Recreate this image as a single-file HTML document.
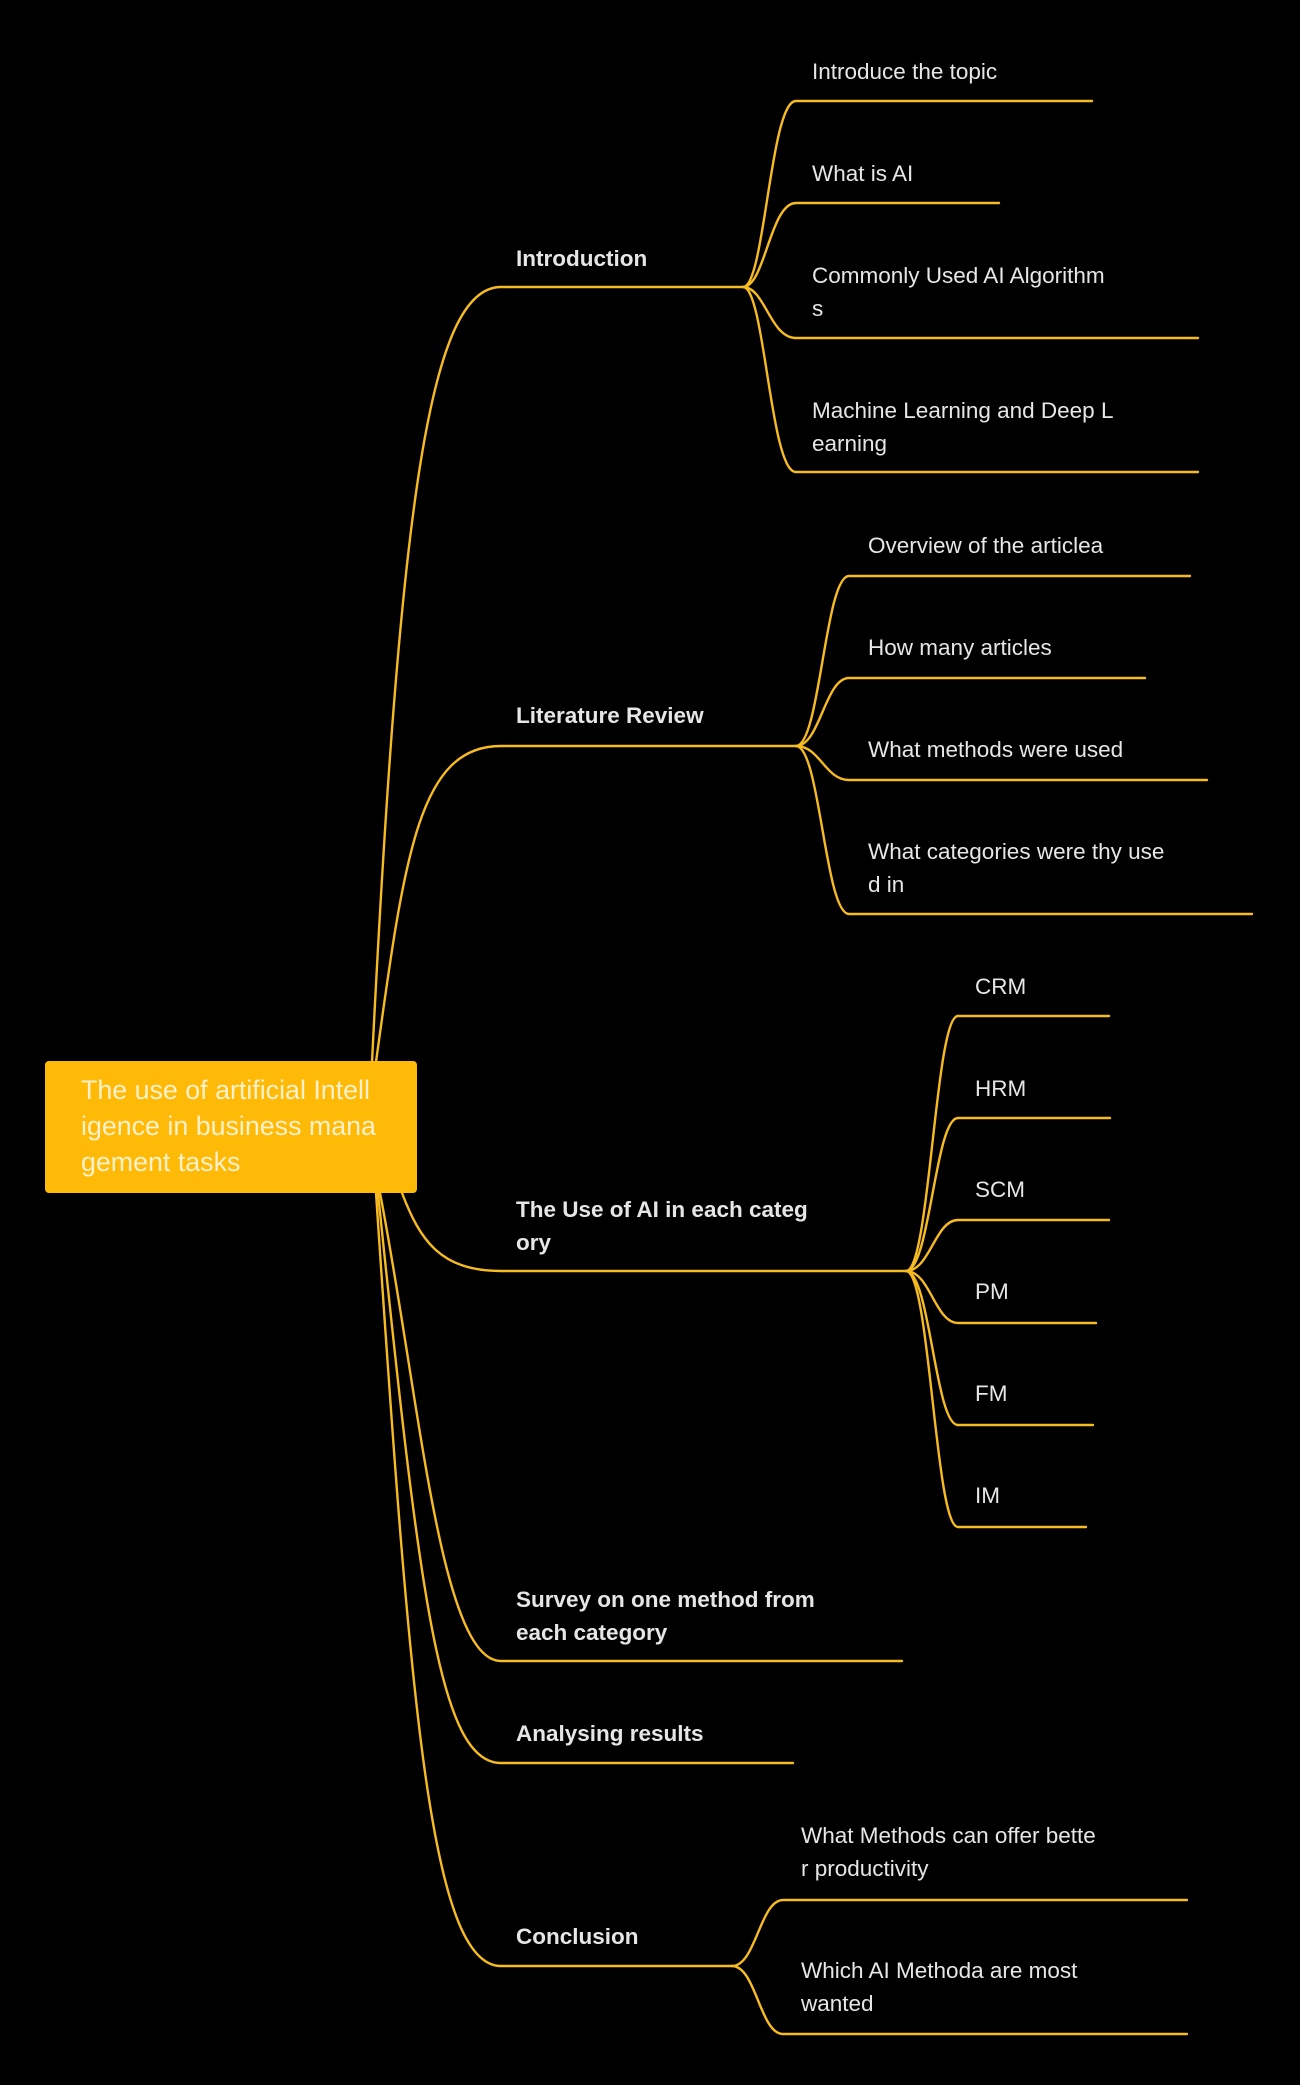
<!DOCTYPE html>
<html><head><meta charset="utf-8"><style>
html,body{margin:0;padding:0;background:#000;}
body{width:1300px;height:2080px;overflow:hidden;}
svg text{font-family:"Liberation Sans",Arial,sans-serif;}
</style></head><body>
<svg width="1300" height="2080" viewBox="0 0 1300 2080" xmlns="http://www.w3.org/2000/svg">
<rect width="1300" height="2080" fill="#000"/>
<g fill="none" stroke="#f7bb22" stroke-width="2.4" stroke-linecap="round">
<path d="M372,1062 C400,500 430,287 501,287 L743,287"/>
<path d="M376,1062 C405,850 420,746 501,746 L796,746"/>
<path d="M402,1193 C420,1240 440,1271 501,1271 L906,1271"/>
<path d="M380,1193 C420,1400 440,1661 501,1661 L902,1661"/>
<path d="M378,1193 C420,1600 440,1763 501,1763 L793,1763"/>
<path d="M376,1193 C410,1700 430,1966 501,1966 L732,1966"/>
<path d="M743,287 C765,287 770,101 796,101 L1092,101"/>
<path d="M743,287 C765,287 770,203 796,203 L999,203"/>
<path d="M743,287 C765,287 770,338 796,338 L1198,338"/>
<path d="M743,287 C765,287 770,472 796,472 L1198,472"/>
<path d="M796,746 C820,746 825,576 849,576 L1190,576"/>
<path d="M796,746 C820,746 825,678 849,678 L1145,678"/>
<path d="M796,746 C820,746 825,780 849,780 L1207,780"/>
<path d="M796,746 C820,746 825,914 849,914 L1252,914"/>
<path d="M906,1271 C930,1271 935,1016 958,1016 L1109,1016"/>
<path d="M906,1271 C930,1271 935,1118 958,1118 L1110,1118"/>
<path d="M906,1271 C930,1271 935,1220 958,1220 L1109,1220"/>
<path d="M906,1271 C930,1271 935,1323 958,1323 L1096,1323"/>
<path d="M906,1271 C930,1271 935,1425 958,1425 L1093,1425"/>
<path d="M906,1271 C930,1271 935,1527 958,1527 L1086,1527"/>
<path d="M732,1966 C756,1966 760,1900 783,1900 L1187,1900"/>
<path d="M732,1966 C756,1966 760,2034 783,2034 L1187,2034"/>
</g>
<rect x="45" y="1061" width="372" height="132" rx="4" fill="#ffb907"/>
<g fill="#fff1cc" font-size="26.8">
<text x="81" y="1099">The use of artificial Intell</text>
<text x="81" y="1135">igence in business mana</text>
<text x="81" y="1171">gement tasks</text>
</g>
<g fill="#e6e6e6" font-size="22.5" font-weight="bold">
<text x="516" y="266">Introduction</text>
<text x="516" y="723">Literature Review</text>
<text x="516" y="1217">The Use of AI in each categ</text>
<text x="516" y="1250">ory</text>
<text x="516" y="1607">Survey on one method from</text>
<text x="516" y="1640"> each category</text>
<text x="516" y="1741">Analysing results</text>
<text x="516" y="1944">Conclusion</text>
</g>
<g fill="#e6e6e6" font-size="22.5">
<text x="812" y="79">Introduce the topic</text>
<text x="812" y="181">What is AI</text>
<text x="812" y="283">Commonly Used AI Algorithm</text>
<text x="812" y="316">s</text>
<text x="812" y="418">Machine Learning and Deep L</text>
<text x="812" y="451">earning</text>
<text x="868" y="553">Overview of the articlea</text>
<text x="868" y="655">How many articles</text>
<text x="868" y="757">What methods were used</text>
<text x="868" y="859">What categories were thy use</text>
<text x="868" y="892">d in</text>
<text x="975" y="994">CRM</text>
<text x="975" y="1096">HRM</text>
<text x="975" y="1197">SCM</text>
<text x="975" y="1299">PM</text>
<text x="975" y="1401">FM</text>
<text x="975" y="1503">IM</text>
<text x="801" y="1843">What Methods can offer bette</text>
<text x="801" y="1876">r productivity</text>
<text x="801" y="1978">Which AI Methoda are most</text>
<text x="801" y="2011">wanted</text>
</g>
</svg>
</body></html>
